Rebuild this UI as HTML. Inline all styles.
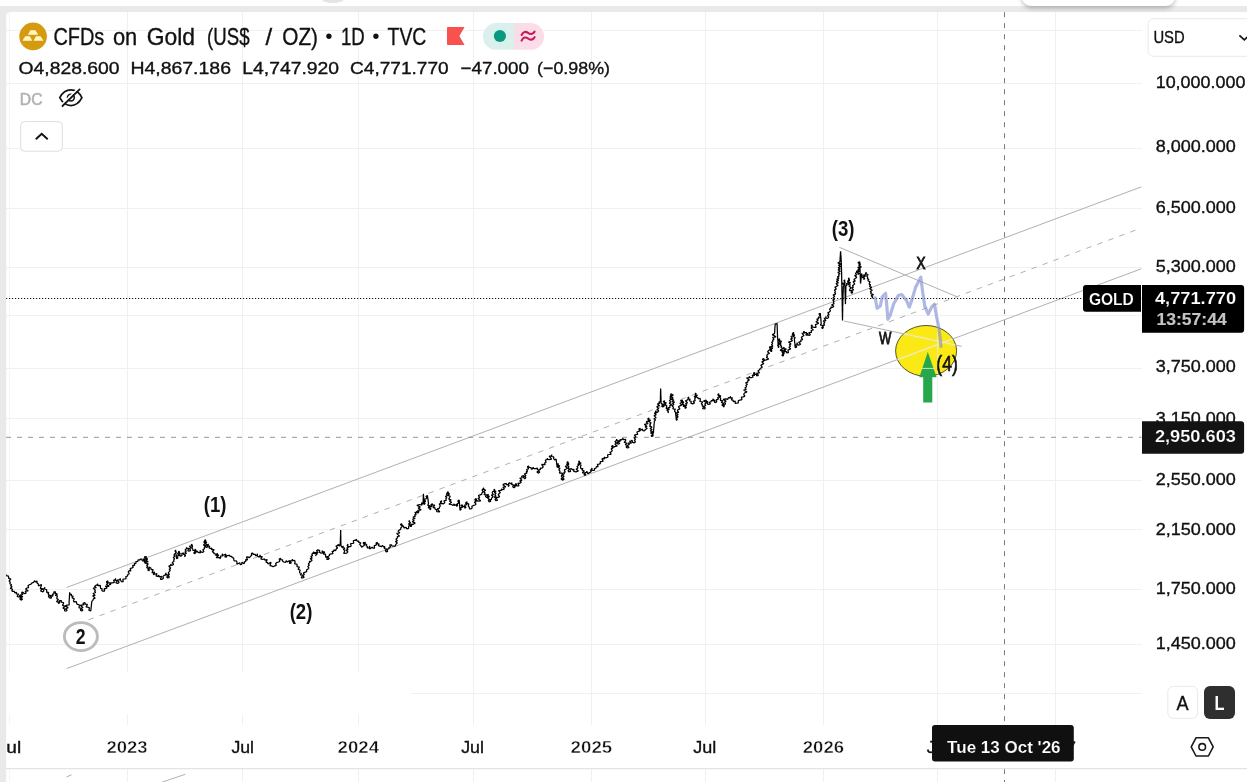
<!DOCTYPE html>
<html lang="en"><head><meta charset="utf-8"><title>CFDs on Gold (US$ / OZ) · 1D · TVC</title>
<style>
html,body{margin:0;padding:0;background:#fff;}
body{width:1260px;height:782px;overflow:hidden;position:relative;font-family:"Liberation Sans", Arial, sans-serif;}
svg{position:absolute;left:0;top:0;display:block;font-family:"Liberation Sans", Arial, sans-serif;}
svg text{white-space:pre;}
.float{position:absolute;left:1022px;top:-14px;width:152.6px;height:19.6px;background:#fff;border-radius:9px;box-shadow:0 2px 5px rgba(0,0,0,.28);}
</style></head><body>
<svg width="1260" height="782" viewBox="0 0 1260 782">
<g stroke="#f0f0f0" stroke-width="1" shape-rendering="crispEdges">
<line x1="6" x2="1141.5" y1="30" y2="30"/>
<line x1="6" x2="1141.5" y1="83.3" y2="83.3"/>
<line x1="6" x2="1141.5" y1="148" y2="148"/>
<line x1="6" x2="1141.5" y1="208.4" y2="208.4"/>
<line x1="6" x2="1141.5" y1="267.1" y2="267.1"/>
<line x1="6" x2="1141.5" y1="315.6" y2="315.6"/>
<line x1="6" x2="1141.5" y1="368.4" y2="368.4"/>
<line x1="6" x2="1141.5" y1="418.6" y2="418.6"/>
<line x1="6" x2="1141.5" y1="480.5" y2="480.5"/>
<line x1="6" x2="1141.5" y1="529.7" y2="529.7"/>
<line x1="6" x2="1141.5" y1="589.3" y2="589.3"/>
<line x1="6" x2="1141.5" y1="644.4" y2="644.4"/>
<line x1="6" x2="1141.5" y1="693.4" y2="693.4"/>
<line x1="127.5" x2="127.5" y1="12" y2="725"/>
<line x1="242.5" x2="242.5" y1="12" y2="725"/>
<line x1="358.5" x2="358.5" y1="12" y2="725"/>
<line x1="473.5" x2="473.5" y1="12" y2="725"/>
<line x1="591.5" x2="591.5" y1="12" y2="725"/>
<line x1="705.5" x2="705.5" y1="12" y2="725"/>
<line x1="823.5" x2="823.5" y1="12" y2="725"/>
<line x1="937.5" x2="937.5" y1="12" y2="725"/>
<line x1="1055.5" x2="1055.5" y1="12" y2="725"/>
<line x1="127.5" x2="127.5" y1="769" y2="782"/>
<line x1="242.5" x2="242.5" y1="769" y2="782"/>
<line x1="358.5" x2="358.5" y1="769" y2="782"/>
<line x1="473.5" x2="473.5" y1="769" y2="782"/>
<line x1="591.5" x2="591.5" y1="769" y2="782"/>
<line x1="705.5" x2="705.5" y1="769" y2="782"/>
<line x1="823.5" x2="823.5" y1="769" y2="782"/>
<line x1="937.5" x2="937.5" y1="769" y2="782"/>
<line x1="1055.5" x2="1055.5" y1="769" y2="782"/>
<line x1="9.5" x2="9.5" y1="12" y2="725" stroke="#f5f5f5"/><line x1="9.5" x2="9.5" y1="769" y2="782" stroke="#f5f5f5"/>
</g>
<rect x="6" y="672" width="405" height="42.5" fill="#fff"/>
<clipPath id="ell"><ellipse cx="926.1" cy="350.9" rx="30" ry="25"/></clipPath>
<ellipse cx="926.1" cy="350.9" rx="30.5" ry="25.4" fill="#fbe915" stroke="#55551f" stroke-width="1"/>
<g stroke="#b0b0b0" stroke-width="1" fill="none">
<line x1="66.6" y1="587.5" x2="1141.3" y2="186.9"/>
<line x1="66.6" y1="668.6" x2="1141.3" y2="268.8"/>
<line x1="66.6" y1="628" x2="1141.3" y2="228" stroke-dasharray="5.5 6.2"/>
<line x1="839.3" y1="247.3" x2="957.5" y2="297"/>
<line x1="844" y1="321" x2="961.7" y2="346.3"/>
</g>
<g clip-path="url(#ell)" stroke="#f4eea0" stroke-width="1.6" fill="none"><line x1="66.6" y1="668.6" x2="1141.3" y2="268.8"/><line x1="844" y1="321" x2="961.7" y2="346.3"/><line x1="937.7" y1="300" x2="937.7" y2="400" stroke-width="1.2"/></g>
<line x1="6" x2="1141.5" y1="298.5" y2="298.5" stroke="#111" stroke-width="1.15" stroke-dasharray="1.2 1.8"/>
<line x1="6" x2="1141.5" y1="437.3" y2="437.3" stroke="#969696" stroke-width="1" stroke-dasharray="5 6"/>
<line x1="1004.5" x2="1004.5" y1="12.2" y2="725" stroke="#7a7a7a" stroke-width="1" stroke-dasharray="5 6"/>
<line x1="1004.5" x2="1004.5" y1="769" y2="782" stroke="#7a7a7a" stroke-width="1" stroke-dasharray="5 6"/>
<path d="M6.1 574.3 L6.4 575.9 L8.2 575.9 L8.7 577.3 L8.7 578.4 L10.9 579.1 L9.1 581.0 L10.2 582.2 L9.9 583.8 L11.6 584.7 L10.5 585.7 L12.1 586.7 L10.2 588.4 L12.5 589.2 L11.8 590.5 L12.7 591.5 L14.1 591.2 L14.8 592.7 L16.6 592.4 L16.2 593.8 L18.7 594.0 L17.1 596.4 L18.5 596.9 L20.2 596.9 L19.8 595.0 L19.7 596.5 L21.0 597.1 L19.8 599.1 L21.1 600.1 L22.5 599.2 L20.5 597.6 L22.9 596.7 L19.9 595.2 L23.0 594.5 L21.5 593.0 L22.4 591.8 L23.4 592.9 L24.9 593.7 L26.2 593.0 L25.2 591.2 L28.3 591.0 L25.6 589.0 L26.9 588.0 L28.7 587.7 L28.0 585.6 L29.4 584.8 L31.0 584.1 L32.0 582.8 L33.7 582.3 L34.5 580.7 L35.7 582.0 L37.1 580.9 L37.0 583.1 L38.4 584.1 L38.4 585.8 L41.6 584.6 L40.9 586.7 L40.3 588.6 L42.6 588.7 L40.5 591.0 L42.8 591.8 L43.9 590.8 L43.0 589.0 L44.7 588.3 L44.8 587.3 L44.2 589.0 L46.6 589.5 L46.7 591.2 L46.9 592.7 L48.7 592.3 L48.2 594.2 L49.2 595.0 L48.4 596.5 L49.9 598.2 L51.7 597.8 L49.6 595.3 L53.0 596.2 L52.4 594.3 L53.9 593.8 L53.8 591.9 L55.6 591.8 L55.2 593.3 L57.5 594.0 L55.2 595.3 L57.5 595.9 L56.9 597.5 L56.8 598.6 L58.5 599.6 L56.4 601.6 L58.7 601.8 L58.2 603.3 L59.6 603.0 L59.5 600.5 L61.4 600.7 L61.1 602.1 L63.6 602.5 L63.3 603.9 L62.5 605.3 L65.1 606.4 L62.9 608.0 L64.6 609.1 L64.6 610.8 L66.5 611.0 L67.1 610.1 L65.6 608.7 L68.2 607.6 L65.3 605.9 L67.1 605.2 L69.2 604.8 L69.1 602.7 L69.1 601.3 L69.2 600.3 L69.3 598.7 L69.4 597.4 L69.5 596.1 L69.5 594.8 L69.6 593.6 L69.7 592.4 L70.0 594.3 L71.6 594.3 L71.2 595.8 L73.2 596.1 L72.0 597.8 L74.3 598.6 L73.5 600.1 L73.8 601.9 L76.3 601.7 L76.7 603.3 L77.2 604.4 L78.9 604.5 L79.3 605.9 L79.0 607.8 L81.3 608.0 L80.4 610.1 L81.8 611.0 L82.9 610.1 L81.1 608.5 L83.0 607.5 L80.2 605.3 L84.2 604.6 L82.9 603.3 L85.0 602.7 L85.3 604.2 L87.5 604.4 L86.0 606.8 L87.6 607.1 L89.5 607.8 L88.8 610.2 L90.8 611.0 L90.9 609.8 L91.0 608.8 L91.2 607.3 L91.3 606.1 L91.4 604.9 L91.6 603.5 L91.7 602.5 L91.8 601.4 L92.9 600.4 L93.4 598.8 L95.2 598.1 L92.6 595.8 L95.2 595.4 L93.0 593.5 L95.7 592.5 L94.6 591.2 L95.4 590.2 L93.1 588.1 L96.4 587.7 L94.4 586.4 L95.9 585.4 L97.2 584.7 L97.8 583.7 L97.6 585.6 L100.3 585.4 L100.4 587.3 L100.6 588.4 L102.1 588.7 L101.8 590.4 L102.9 591.2 L104.6 591.1 L104.2 588.7 L105.5 588.6 L107.1 588.0 L105.3 586.1 L109.1 586.3 L106.2 584.1 L108.1 583.5 L106.3 581.8 L108.1 580.9 L107.4 582.5 L110.3 582.8 L109.3 584.8 L110.6 584.4 L110.9 582.8 L112.5 582.8 L114.4 582.4 L113.6 580.2 L115.4 579.7 L115.7 578.4 L114.9 580.2 L117.3 580.6 L115.8 582.6 L117.6 583.5 L119.1 582.4 L117.3 580.0 L120.0 579.6 L120.2 578.4 L120.5 580.0 L121.5 581.6 L123.2 581.7 L122.9 579.2 L124.7 579.0 L126.1 578.6 L125.8 576.5 L127.4 576.1 L127.9 574.5 L129.3 573.8 L128.2 571.8 L129.2 570.7 L130.9 570.9 L130.1 568.4 L131.7 568.1 L133.3 567.3 L132.5 565.4 L134.7 565.5 L134.3 563.7 L136.0 563.4 L135.9 561.6 L137.8 561.5 L138.1 559.8 L139.5 559.9 L140.6 559.1 L141.9 559.2 L142.3 560.9 L144.4 560.7 L144.5 562.4 L145.9 561.7 L143.3 559.2 L146.3 559.0 L144.2 556.9 L146.4 556.6 L145.9 558.0 L147.7 559.0 L145.9 560.1 L148.2 561.7 L144.5 562.9 L148.3 563.8 L146.6 565.5 L147.9 566.1 L146.6 567.5 L148.8 568.9 L147.7 570.1 L149.3 570.6 L148.9 567.0 L150.9 568.1 L151.2 569.6 L153.2 569.6 L152.0 572.9 L154.7 572.0 L153.3 574.6 L157.0 573.5 L156.0 576.0 L157.3 576.4 L159.0 575.4 L159.0 577.0 L161.6 576.3 L160.4 579.4 L162.1 579.3 L163.4 578.3 L162.9 576.7 L164.1 575.4 L166.1 575.0 L166.0 572.9 L165.2 574.7 L169.0 574.8 L166.6 577.1 L167.9 578.0 L169.4 577.2 L167.9 575.3 L169.3 574.6 L168.3 572.6 L169.2 571.6 L170.3 570.3 L169.1 569.2 L170.7 568.2 L168.7 566.1 L171.3 565.3 L170.5 563.9 L171.1 564.8 L172.4 565.2 L173.6 564.3 L172.2 562.5 L174.1 561.3 L173.7 560.1 L174.6 558.7 L173.3 557.6 L175.0 556.2 L173.9 555.1 L174.9 553.7 L176.4 552.3 L175.0 551.3 L175.6 549.9 L175.7 551.2 L175.9 552.4 L176.0 553.9 L176.2 555.3 L176.3 556.0 L176.5 557.6 L176.6 558.8 L178.0 558.0 L176.3 556.0 L179.4 555.6 L177.5 553.6 L179.7 552.6 L178.8 551.2 L178.3 552.6 L180.2 553.6 L179.5 555.3 L180.7 556.3 L182.0 555.5 L181.8 553.4 L183.9 553.1 L183.3 554.3 L185.6 555.3 L184.5 556.9 L185.2 555.9 L184.2 554.5 L186.5 553.3 L184.8 552.1 L186.3 551.2 L185.1 549.8 L186.9 548.5 L186.4 547.3 L186.6 548.5 L188.9 548.3 L187.8 550.6 L189.0 551.2 L190.7 550.4 L189.3 548.4 L191.1 547.9 L189.4 546.1 L192.5 545.7 L191.6 544.1 L191.3 545.7 L192.6 546.5 L191.8 547.9 L192.8 549.2 L192.9 550.4 L196.2 550.7 L193.7 553.0 L194.8 553.7 L196.2 552.1 L194.3 550.9 L195.4 549.2 L195.8 550.9 L197.4 551.3 L198.0 552.4 L200.5 552.8 L199.9 550.5 L200.9 551.7 L202.4 552.4 L204.0 551.5 L202.7 549.7 L204.5 548.7 L204.3 547.3 L205.8 546.4 L203.4 544.9 L205.3 543.5 L203.7 542.0 L205.8 541.0 L205.4 539.6 L204.2 541.3 L206.8 542.2 L204.8 543.5 L206.7 544.4 L205.5 546.0 L206.3 547.3 L207.8 546.8 L207.2 545.0 L208.6 544.1 L207.6 545.5 L209.8 546.3 L208.9 547.7 L210.1 548.6 L212.0 548.0 L211.5 549.6 L214.2 549.5 L212.3 551.9 L213.9 552.4 L213.9 553.7 L215.8 554.0 L215.9 555.6 L217.7 554.8 L217.1 553.1 L216.9 554.6 L218.7 555.2 L216.2 557.6 L220.3 557.4 L219.7 558.8 L220.7 557.5 L220.4 556.0 L222.8 555.8 L222.3 553.7 L222.4 555.5 L226.0 554.2 L224.8 556.9 L226.4 557.1 L226.7 555.6 L228.1 555.7 L229.3 555.0 L230.1 556.4 L231.8 556.3 L232.1 557.7 L233.6 557.9 L233.8 559.5 L234.1 561.0 L236.2 560.8 L237.0 562.0 L236.8 564.3 L239.8 562.7 L240.2 564.6 L241.6 564.5 L241.9 562.4 L244.2 563.7 L244.6 562.0 L245.8 561.1 L245.6 559.7 L247.6 559.8 L246.4 557.2 L247.8 556.9 L249.3 557.8 L250.4 556.3 L251.6 555.4 L251.4 553.4 L252.9 553.1 L253.1 554.4 L255.3 554.4 L255.5 555.6 L257.3 555.7 L257.4 553.7 L256.7 555.6 L258.7 556.9 L260.5 557.0 L260.0 555.0 L259.7 556.4 L262.3 556.6 L260.8 558.8 L262.5 559.5 L264.5 558.8 L264.8 560.2 L267.2 559.6 L266.0 562.2 L267.6 562.7 L268.0 563.9 L271.1 562.4 L269.9 565.7 L271.5 565.9 L273.1 566.7 L274.7 565.9 L276.3 565.3 L275.6 563.5 L276.6 562.7 L278.5 562.0 L279.8 561.2 L279.2 559.0 L280.7 558.2 L280.7 559.7 L282.6 559.8 L282.5 561.1 L283.6 562.0 L285.4 562.4 L286.2 560.7 L287.0 561.9 L290.0 560.6 L289.4 563.3 L291.3 563.2 L290.3 560.8 L292.7 560.7 L292.2 559.1 L292.3 560.7 L294.7 560.3 L295.1 562.0 L294.6 564.0 L296.9 564.1 L297.1 565.2 L297.0 566.7 L299.4 567.1 L298.1 569.4 L300.3 570.0 L299.6 571.6 L299.7 573.0 L301.4 573.4 L300.3 575.0 L303.0 575.2 L301.2 577.8 L302.8 578.0 L304.2 577.3 L302.8 575.6 L304.4 574.5 L303.3 573.1 L304.7 572.3 L306.6 571.7 L306.6 569.9 L307.9 569.1 L308.9 568.1 L307.8 566.5 L309.3 565.3 L308.3 563.7 L309.9 562.6 L309.2 561.4 L310.9 561.4 L312.1 560.3 L310.1 558.6 L312.2 558.2 L310.8 556.3 L312.6 555.6 L311.8 554.1 L312.8 553.1 L314.1 551.8 L313.2 553.4 L317.4 553.6 L315.3 555.7 L316.6 554.6 L314.3 552.5 L318.1 552.6 L316.4 550.7 L317.9 549.9 L319.8 550.6 L319.3 552.3 L321.1 553.1 L323.0 552.7 L322.4 550.6 L322.0 551.9 L324.7 551.9 L323.3 554.1 L325.4 554.1 L325.6 555.7 L325.6 557.2 L327.9 556.7 L326.7 559.3 L328.1 559.5 L329.3 558.5 L327.5 556.9 L329.5 555.6 L329.4 554.4 L331.3 553.8 L333.0 553.6 L332.0 551.3 L333.8 551.3 L333.9 549.9 L335.7 550.6 L336.4 548.6 L337.6 547.9 L335.9 546.2 L338.3 545.4 L337.7 544.2 L339.5 546.0 L340.3 543.5 L340.3 542.0 L340.4 541.3 L340.4 539.7 L340.4 538.4 L340.5 537.5 L340.5 536.3 L340.5 535.0 L340.6 534.0 L340.6 532.8 L340.6 531.5 L340.7 530.1 L340.7 531.5 L340.7 532.3 L340.7 533.4 L340.7 535.0 L340.8 536.2 L340.8 537.1 L340.8 538.1 L340.8 539.4 L340.8 540.7 L340.9 541.8 L340.9 543.2 L340.9 544.2 L340.9 545.4 L341.9 547.3 L343.5 546.1 L342.0 547.7 L344.9 548.0 L343.4 549.6 L344.8 550.6 L343.7 553.5 L346.7 553.1 L347.9 551.8 L345.9 550.1 L348.1 549.6 L346.8 547.8 L348.8 547.2 L347.1 545.5 L348.0 544.2 L347.5 546.6 L349.9 546.7 L351.1 546.1 L350.6 543.7 L352.4 543.5 L353.8 543.1 L353.3 540.9 L354.3 540.3 L355.6 540.4 L356.3 539.1 L357.0 541.0 L358.8 541.0 L358.7 542.4 L360.9 542.8 L359.6 544.4 L360.7 545.4 L361.7 547.2 L363.3 546.1 L364.5 545.3 L363.1 542.6 L365.5 542.3 L364.6 543.6 L366.8 544.6 L366.0 545.7 L367.5 546.5 L367.1 548.0 L368.9 547.9 L369.7 546.1 L369.6 548.9 L372.1 547.2 L372.9 548.0 L374.6 548.0 L374.2 545.6 L375.4 545.4 L376.6 544.4 L376.0 543.0 L377.4 542.3 L377.2 543.7 L379.1 543.8 L378.3 545.7 L379.9 546.1 L381.4 546.7 L382.5 545.4 L383.5 546.9 L385.0 546.7 L384.2 548.5 L386.7 549.0 L385.3 550.5 L386.3 551.8 L387.7 551.3 L386.7 549.0 L389.0 548.9 L388.9 547.4 L390.5 547.1 L389.8 544.8 L391.4 544.8 L391.9 545.9 L393.4 546.1 L395.2 546.1 L395.9 544.2 L397.4 542.9 L395.4 541.6 L397.4 540.7 L395.9 539.2 L397.6 537.8 L397.2 536.5 L399.6 536.1 L396.6 533.4 L399.8 533.0 L398.0 531.1 L399.1 530.1 L400.6 529.4 L401.0 527.5 L402.5 526.3 L400.3 524.6 L401.7 523.7 L402.2 525.5 L403.6 526.3 L404.0 528.0 L406.1 527.4 L406.8 528.8 L408.6 528.4 L408.7 526.3 L409.7 525.3 L408.6 523.8 L410.4 522.9 L408.8 521.4 L409.6 520.5 L409.3 521.6 L410.5 522.7 L409.2 524.1 L410.8 525.2 L410.2 526.3 L411.5 526.3 L411.5 524.2 L413.2 524.3 L415.2 523.1 L412.2 521.6 L414.1 520.7 L412.7 519.2 L415.2 518.3 L412.9 517.2 L415.3 516.3 L414.5 514.8 L416.2 514.6 L414.9 512.3 L417.5 512.5 L417.0 510.9 L416.6 512.6 L418.3 512.8 L418.9 511.5 L417.8 510.4 L421.2 509.8 L418.2 508.1 L420.4 507.0 L416.9 505.4 L419.6 504.5 L422.0 505.1 L421.5 502.6 L423.0 503.9 L423.1 502.9 L423.1 501.6 L423.2 500.0 L423.2 498.5 L423.3 497.6 L423.3 496.4 L423.4 494.9 L423.4 493.7 L423.5 495.0 L423.5 496.0 L423.6 497.3 L423.7 498.4 L423.8 499.6 L423.8 500.8 L423.9 502.4 L424.0 503.5 L424.0 504.5 L425.1 503.5 L423.8 502.1 L425.6 501.4 L423.8 499.2 L426.0 498.8 L426.8 498.1 L426.0 496.4 L427.5 495.6 L427.6 496.8 L427.8 498.0 L427.9 499.2 L428.1 500.2 L428.2 501.5 L428.4 502.5 L428.5 503.9 L427.7 505.4 L430.3 505.8 L428.1 507.6 L430.2 508.3 L429.8 509.6 L431.0 508.9 L428.4 506.3 L432.1 506.7 L430.9 504.6 L432.4 503.9 L432.6 505.1 L434.8 505.0 L433.0 507.7 L434.9 507.7 L435.0 509.0 L436.6 509.9 L436.8 511.6 L439.8 512.0 L437.2 508.9 L439.3 508.3 L439.4 507.1 L440.3 506.1 L439.2 503.8 L441.9 503.6 L440.2 501.7 L441.9 500.7 L440.5 502.8 L443.2 503.9 L444.8 502.8 L443.9 500.8 L446.3 500.4 L445.8 498.8 L446.8 497.8 L445.4 496.3 L447.5 495.5 L446.3 494.0 L448.7 493.3 L447.7 491.7 L446.9 493.6 L449.5 493.6 L447.9 495.7 L450.2 496.0 L449.6 497.5 L448.7 499.1 L451.2 499.8 L449.4 501.2 L451.7 502.2 L448.9 504.2 L451.5 504.5 L453.1 505.5 L454.1 503.9 L454.5 505.4 L456.6 504.7 L456.6 506.4 L457.6 505.5 L457.1 503.9 L458.8 503.0 L457.9 500.9 L459.2 500.1 L459.3 501.5 L459.4 502.3 L459.5 504.0 L459.6 505.2 L459.7 506.6 L459.8 507.6 L459.9 508.7 L460.0 510.2 L461.1 509.5 L460.4 507.7 L462.5 507.3 L461.0 505.1 L462.8 505.0 L462.5 506.4 L464.9 506.7 L464.7 508.2 L466.0 507.5 L464.5 505.2 L466.9 504.6 L465.5 502.8 L467.3 501.8 L466.4 503.3 L468.8 503.9 L468.3 506.1 L469.2 507.0 L469.5 508.8 L471.1 508.9 L472.1 508.0 L471.9 506.3 L473.0 505.7 L474.9 505.0 L476.1 504.2 L474.4 502.2 L476.2 501.6 L474.8 499.6 L476.2 498.6 L476.6 500.6 L478.1 501.2 L480.7 500.8 L477.9 498.6 L479.7 497.6 L478.4 495.6 L480.1 494.8 L481.7 494.3 L482.0 492.9 L483.1 491.6 L482.0 489.9 L483.7 488.9 L483.6 487.8 L483.0 489.1 L485.6 490.2 L483.6 491.8 L485.2 492.9 L484.0 494.7 L487.0 494.8 L485.4 496.4 L486.4 497.4 L488.0 496.7 L487.3 495.0 L488.4 494.2 L487.9 495.4 L489.4 496.5 L487.5 497.9 L489.7 499.5 L488.4 500.3 L489.0 501.8 L490.8 501.5 L489.5 499.3 L491.4 499.6 L491.6 498.0 L493.2 496.8 L491.4 495.1 L493.4 494.7 L492.2 492.7 L492.8 491.6 L494.5 491.1 L494.5 489.1 L493.7 490.3 L496.0 491.3 L494.4 492.7 L496.1 493.3 L494.7 494.9 L495.9 496.0 L494.3 497.3 L496.6 498.3 L494.9 499.2 L495.8 500.6 L497.5 500.4 L496.1 497.4 L498.0 497.4 L499.7 496.7 L498.2 494.8 L499.2 493.5 L500.4 492.6 L498.4 490.5 L501.5 490.3 L501.2 489.1 L503.1 489.7 L504.4 489.0 L502.9 487.2 L505.9 486.9 L502.8 484.8 L504.3 483.9 L506.3 483.3 L506.1 484.6 L508.8 484.5 L508.2 486.5 L509.1 485.6 L508.3 483.8 L509.5 482.7 L510.7 483.9 L512.0 482.7 L511.6 484.4 L513.5 485.2 L512.7 486.8 L513.9 487.8 L515.3 486.8 L513.5 485.0 L516.6 485.0 L515.9 483.3 L515.4 485.3 L517.1 485.9 L519.0 485.9 L517.9 483.2 L519.7 483.3 L521.3 482.4 L519.7 480.8 L522.0 480.4 L519.8 478.0 L522.2 477.9 L521.6 476.3 L523.5 475.6 L523.6 477.6 L524.8 478.8 L525.8 477.5 L524.4 476.0 L526.0 475.6 L524.4 474.1 L527.1 472.9 L526.1 471.8 L527.6 471.2 L526.5 469.5 L528.6 468.8 L527.4 466.7 L528.6 466.0 L528.9 467.3 L531.1 467.5 L531.2 469.2 L532.6 468.8 L533.1 467.3 L533.9 468.7 L535.7 468.6 L537.6 468.0 L537.1 469.2 L539.1 470.4 L536.9 472.0 L538.2 473.1 L539.7 472.3 L538.4 470.3 L540.5 469.4 L540.2 468.0 L542.1 468.0 L543.3 466.9 L541.6 464.4 L545.2 464.7 L544.6 462.8 L546.1 462.5 L545.3 460.0 L547.0 459.7 L547.2 458.4 L547.9 459.4 L549.1 459.6 L551.7 459.2 L549.1 456.2 L551.7 456.2 L551.7 454.5 L551.4 456.5 L553.8 456.8 L553.6 458.4 L554.6 460.0 L556.1 459.0 L556.3 460.4 L556.4 461.6 L556.6 462.7 L556.7 463.8 L556.9 465.0 L557.0 466.3 L557.2 467.3 L558.8 466.4 L557.2 464.6 L558.4 463.5 L558.0 464.9 L559.7 466.1 L558.0 467.5 L560.0 468.3 L558.8 469.8 L560.0 471.2 L559.4 473.2 L562.4 473.0 L561.9 475.0 L561.3 476.1 L562.6 477.5 L561.1 479.0 L562.5 480.1 L564.1 479.1 L561.9 477.3 L564.1 476.7 L562.3 474.6 L564.3 473.9 L563.8 472.4 L565.3 472.2 L564.3 469.9 L565.7 469.2 L567.4 468.3 L565.2 466.3 L568.0 465.7 L566.5 464.1 L568.5 463.4 L567.6 461.6 L567.0 462.8 L568.9 463.8 L567.6 465.5 L569.0 466.7 L568.0 468.2 L569.3 468.8 L568.1 470.6 L568.9 471.8 L570.6 471.4 L569.9 469.1 L571.5 468.6 L572.5 469.9 L574.0 469.2 L573.7 471.3 L576.0 471.8 L578.4 470.8 L576.1 469.3 L577.9 467.9 L576.9 466.5 L578.6 465.5 L577.9 464.1 L579.7 463.2 L579.2 460.9 L578.5 462.2 L581.1 463.1 L579.0 464.5 L581.2 465.0 L580.4 466.7 L580.9 468.6 L583.0 468.6 L581.9 470.0 L584.4 471.0 L582.3 472.6 L584.9 473.4 L584.0 475.0 L585.8 475.0 L584.9 472.6 L586.6 472.3 L586.8 471.2 L587.7 473.6 L590.0 472.4 L591.2 471.4 L590.5 469.9 L592.1 469.2 L591.9 468.0 L591.5 469.9 L593.2 470.5 L594.6 470.2 L594.4 468.5 L596.0 468.2 L596.4 466.7 L598.2 466.6 L597.3 464.4 L599.0 464.1 L600.3 463.7 L600.2 461.7 L601.5 461.6 L603.2 461.2 L601.9 458.7 L604.4 458.9 L604.1 457.1 L605.2 457.9 L606.6 457.7 L608.0 457.0 L607.5 454.8 L609.2 454.5 L611.1 454.4 L609.8 452.0 L611.5 451.8 L612.2 450.6 L611.2 448.9 L613.0 447.9 L611.5 446.5 L612.8 445.4 L613.0 447.4 L614.7 446.7 L617.3 445.9 L614.9 444.2 L616.4 443.2 L614.9 441.6 L617.0 440.3 L616.6 439.1 L616.5 440.6 L619.3 440.8 L617.1 442.9 L617.9 444.2 L619.8 443.5 L617.9 441.7 L620.3 441.1 L619.8 439.7 L621.7 439.8 L623.0 438.4 L623.6 439.7 L625.7 439.4 L625.6 441.0 L624.1 442.5 L626.7 443.0 L625.3 444.6 L627.9 445.5 L626.0 446.9 L627.5 448.0 L629.1 447.4 L627.1 445.6 L629.4 444.5 L627.7 443.0 L631.5 443.0 L629.4 441.0 L630.8 441.3 L632.0 440.3 L632.6 442.3 L634.3 442.9 L635.5 441.7 L634.3 440.4 L635.5 439.2 L634.1 437.8 L636.0 437.0 L634.3 435.4 L635.8 434.6 L637.7 434.4 L636.9 432.0 L638.4 431.4 L640.0 431.0 L638.8 428.9 L640.3 428.2 L639.4 430.6 L642.5 429.1 L642.8 430.7 L644.4 430.8 L645.4 429.5 L647.2 428.5 L645.1 426.7 L647.1 426.4 L644.4 424.4 L648.1 423.6 L646.2 422.0 L647.3 421.2 L649.5 421.3 L647.7 418.7 L649.2 418.0 L648.4 419.2 L650.6 420.3 L648.7 421.5 L651.1 422.7 L649.8 424.1 L650.5 425.0 L649.5 426.1 L652.0 427.1 L650.0 428.7 L652.2 429.5 L650.2 431.0 L652.6 431.7 L650.5 433.0 L653.3 434.1 L651.1 435.7 L651.8 436.5 L653.2 435.6 L652.3 433.4 L653.5 432.7 L653.5 431.7 L653.6 430.3 L653.7 429.3 L653.8 428.0 L653.9 426.9 L654.0 426.0 L654.1 424.4 L654.2 423.4 L654.3 422.2 L654.3 421.2 L655.6 419.9 L653.8 418.7 L656.1 417.7 L654.0 415.6 L656.2 414.8 L654.4 413.3 L656.5 412.2 L655.6 410.9 L655.2 413.5 L657.5 412.2 L658.8 410.8 L656.8 409.6 L658.8 408.5 L656.7 406.7 L659.6 405.7 L657.3 404.1 L659.6 403.4 L658.8 402.0 L660.4 401.7 L660.4 400.1 L660.4 398.9 L660.4 397.5 L660.4 396.3 L660.5 395.7 L660.5 394.4 L660.5 392.9 L660.5 392.1 L660.6 391.0 L660.6 389.5 L660.6 388.5 L660.7 389.8 L660.7 390.8 L660.8 391.9 L660.8 393.3 L660.8 394.7 L660.9 395.7 L660.9 397.0 L661.0 398.4 L661.0 399.6 L661.1 401.0 L661.1 402.0 L661.0 403.3 L663.0 404.4 L661.8 406.1 L662.7 407.1 L664.3 405.9 L661.6 404.0 L666.0 404.1 L663.2 401.5 L664.6 400.7 L664.2 402.3 L666.2 402.7 L664.6 404.9 L666.8 405.5 L666.5 407.1 L666.2 408.4 L668.1 409.4 L666.9 410.4 L668.4 411.7 L667.8 412.8 L668.5 412.0 L667.4 410.2 L669.3 409.4 L667.8 407.6 L670.1 407.4 L669.7 405.8 L671.6 404.6 L669.2 403.3 L670.8 401.9 L669.3 400.6 L671.2 399.5 L669.9 398.3 L671.2 397.2 L669.8 396.3 L673.4 395.2 L671.0 393.7 L670.6 395.5 L672.3 395.6 L671.4 396.8 L673.2 398.0 L671.3 399.1 L673.9 400.1 L671.9 401.5 L674.5 402.2 L672.4 403.7 L674.0 404.5 L672.0 405.8 L673.5 407.1 L672.8 408.8 L675.4 409.1 L674.5 411.0 L675.4 412.2 L675.6 413.4 L675.7 414.5 L675.9 415.8 L676.0 416.8 L676.2 418.4 L676.3 419.5 L676.5 420.5 L677.4 419.2 L676.0 417.8 L678.2 416.9 L676.5 415.4 L678.1 414.6 L676.3 412.9 L678.8 412.3 L677.4 411.0 L678.0 409.6 L679.9 408.8 L678.4 406.7 L679.9 405.8 L681.7 405.1 L679.9 403.0 L682.5 402.5 L680.5 400.6 L682.5 400.1 L682.2 401.5 L683.8 401.9 L682.3 404.3 L684.4 404.8 L683.0 406.2 L685.2 406.8 L685.0 408.4 L686.5 407.5 L684.6 405.9 L686.8 405.2 L685.5 403.6 L687.5 402.8 L685.4 400.8 L687.0 400.1 L688.4 399.3 L687.9 397.8 L688.9 396.9 L688.2 398.8 L690.2 399.0 L689.3 400.6 L691.3 401.5 L690.8 403.2 L692.7 403.9 L694.5 402.9 L693.1 401.4 L695.2 400.6 L694.6 398.8 L695.5 397.8 L694.2 396.4 L696.2 395.7 L695.2 393.8 L695.9 393.0 L695.4 394.8 L697.3 395.0 L696.1 397.0 L697.8 397.5 L698.2 398.7 L700.1 398.4 L700.4 400.1 L699.8 401.5 L702.7 401.8 L701.3 403.9 L702.3 404.5 L702.2 406.1 L703.9 406.5 L702.5 408.5 L704.2 409.0 L705.4 408.0 L703.5 406.4 L705.8 405.5 L704.8 404.1 L706.8 402.6 L703.4 401.0 L706.1 400.1 L706.3 401.2 L707.9 401.8 L707.4 403.9 L708.7 404.5 L710.4 404.0 L709.4 402.4 L711.0 401.7 L711.3 400.7 L713.4 400.6 L713.2 398.8 L712.6 400.8 L714.9 400.2 L714.4 402.2 L715.7 402.6 L716.7 401.5 L716.2 399.9 L718.4 399.1 L717.6 397.5 L719.4 396.8 L717.8 394.6 L718.9 393.7 L718.6 395.3 L720.7 395.8 L720.0 397.7 L720.8 398.8 L720.3 400.3 L722.9 400.9 L721.2 402.5 L723.6 403.1 L721.9 405.2 L723.4 406.0 L723.4 407.1 L724.4 406.0 L723.5 404.3 L725.7 404.1 L724.5 402.1 L726.2 401.3 L723.1 399.4 L726.0 398.8 L727.8 399.3 L728.5 397.5 L730.3 398.1 L730.4 396.2 L730.1 398.0 L732.4 397.7 L731.4 399.8 L733.0 400.1 L733.3 401.7 L735.3 401.1 L735.1 403.3 L736.8 403.2 L738.3 402.9 L738.3 400.5 L740.0 400.1 L742.0 399.7 L741.3 397.1 L743.2 396.9 L744.9 396.2 L743.7 394.4 L744.5 393.0 L747.0 391.9 L743.7 390.2 L746.3 389.3 L744.9 388.1 L746.6 386.8 L745.8 385.3 L747.4 384.5 L745.7 382.7 L747.8 382.1 L747.7 380.9 L749.4 380.0 L746.6 377.9 L749.7 377.7 L749.0 376.4 L750.0 377.4 L751.5 377.7 L753.1 377.0 L752.1 375.2 L754.7 375.4 L753.4 373.0 L754.7 372.6 L754.7 374.2 L756.7 374.3 L756.6 375.8 L758.4 375.4 L756.6 373.1 L759.5 373.0 L758.0 370.8 L759.2 370.0 L760.5 368.2 L762.3 367.3 L760.8 365.2 L762.4 364.4 L763.8 363.5 L761.7 361.8 L764.0 361.2 L762.3 359.3 L763.7 358.6 L764.4 360.4 L766.2 359.9 L768.6 359.1 L766.3 357.3 L767.4 356.6 L766.8 355.4 L767.5 354.2 L769.5 353.5 L767.6 351.7 L768.8 350.3 L770.5 349.4 L769.4 347.1 L770.7 346.5 L769.5 347.8 L771.7 349.2 L770.2 350.4 L771.3 351.6 L771.9 350.7 L770.4 349.0 L772.8 348.3 L771.1 346.9 L772.9 346.1 L771.5 344.7 L772.7 343.6 L771.6 342.2 L773.1 341.2 L772.6 340.1 L774.0 339.2 L772.6 337.3 L776.0 336.9 L772.3 334.6 L774.5 333.7 L774.6 332.6 L774.7 331.6 L774.8 330.3 L774.8 329.0 L774.9 327.6 L775.0 326.7 L775.1 325.6 L775.2 324.1 L777.1 323.5 L777.1 324.4 L777.2 326.0 L777.2 326.9 L777.2 327.9 L777.3 329.3 L777.3 330.1 L777.4 331.3 L777.4 332.6 L777.4 333.9 L777.5 335.0 L777.5 336.2 L777.6 337.6 L777.7 338.7 L777.8 339.8 L777.9 340.7 L778.0 341.9 L778.0 343.0 L778.1 344.0 L778.2 345.6 L778.3 346.7 L778.4 347.8 L779.0 346.3 L777.4 345.3 L779.8 344.0 L778.0 342.8 L779.7 341.7 L778.5 339.7 L779.6 338.8 L779.5 340.5 L781.5 341.3 L780.2 343.0 L780.9 343.9 L780.4 345.4 L781.7 346.3 L780.9 347.5 L782.8 348.4 L780.1 350.3 L783.2 351.0 L781.9 352.3 L784.4 353.4 L781.9 355.1 L782.8 356.1 L783.6 355.1 L782.5 353.7 L784.2 352.1 L781.2 350.6 L785.5 349.9 L783.4 348.3 L784.1 347.1 L783.9 348.5 L786.2 348.8 L784.5 351.4 L786.5 351.6 L786.7 352.9 L788.5 352.7 L787.9 350.2 L789.2 349.7 L790.7 348.7 L788.9 347.4 L790.5 346.1 L789.4 344.9 L791.0 343.9 L788.4 342.1 L791.2 341.4 L792.5 340.4 L790.6 339.1 L792.4 338.1 L790.9 336.4 L793.7 335.9 L792.2 334.3 L793.7 334.0 L793.5 332.4 L792.3 333.9 L794.7 335.1 L792.9 336.2 L795.2 337.6 L794.3 338.8 L794.5 340.2 L794.6 341.2 L794.7 342.8 L794.9 343.7 L795.0 345.5 L795.1 346.6 L795.2 347.8 L796.8 346.9 L795.3 345.1 L797.7 344.6 L796.9 342.7 L797.1 344.3 L798.8 345.2 L800.6 344.3 L798.6 342.0 L801.1 341.7 L800.7 340.1 L802.6 339.6 L801.3 337.4 L802.7 336.3 L804.0 335.4 L801.9 333.4 L804.8 332.8 L803.9 331.2 L803.4 332.7 L806.8 332.7 L805.9 335.0 L807.7 335.0 L807.8 333.1 L807.6 334.6 L809.1 335.6 L810.3 334.7 L808.8 332.5 L811.6 332.3 L811.0 330.5 L813.4 329.9 L811.0 327.9 L812.2 327.1 L811.2 325.9 L812.0 324.8 L812.1 326.9 L814.2 327.3 L816.1 327.4 L815.4 324.6 L816.7 324.1 L818.7 323.1 L815.9 321.7 L818.1 320.5 L816.8 319.2 L818.7 318.7 L818.3 317.1 L820.8 316.9 L818.9 314.0 L820.3 313.2 L820.4 314.6 L820.5 315.8 L820.6 317.3 L820.8 318.3 L820.9 319.4 L821.0 321.0 L821.1 322.2 L821.2 323.5 L820.4 325.2 L823.9 325.4 L821.7 327.7 L822.5 328.6 L823.3 327.5 L822.7 326.1 L824.4 325.2 L823.8 323.5 L824.8 322.5 L823.2 320.9 L825.9 320.6 L824.2 318.3 L826.1 318.0 L825.9 316.4 L825.8 318.0 L827.6 318.4 L828.8 317.1 L827.3 315.4 L829.2 314.6 L827.8 312.7 L829.5 312.0 L830.5 310.7 L829.5 309.0 L831.1 308.2 L830.8 306.9 L832.3 307.5 L833.9 306.3 L831.6 304.9 L834.1 303.7 L833.4 302.4 L834.0 301.2 L832.7 300.0 L834.5 299.1 L833.1 297.5 L834.8 296.2 L833.1 294.9 L835.8 294.0 L834.6 292.8 L835.4 291.8 L834.4 290.1 L836.3 289.2 L834.9 287.4 L836.5 286.4 L836.7 286.2 L838.1 285.5 L836.0 283.6 L838.5 282.7 L836.3 281.4 L838.7 280.3 L836.5 279.0 L839.0 278.3 L837.3 276.8 L839.1 276.1 L838.7 274.6 L840.0 273.7 L837.8 272.4 L840.3 271.5 L838.1 269.7 L840.3 269.0 L838.1 267.6 L840.7 266.5 L838.4 265.3 L841.0 264.2 L837.8 263.0 L839.9 261.9 L840.0 260.4 L840.1 259.3 L840.1 258.1 L840.2 257.2 L840.3 255.8 L840.4 254.6 L840.4 253.8 L840.5 252.4 L840.6 251.4 L840.7 252.3 L840.7 253.5 L840.8 255.0 L840.9 255.7 L841.0 256.8 L841.1 258.2 L841.1 259.5 L841.2 260.6 L841.2 261.8 L841.3 262.9 L841.3 263.9 L841.4 265.5 L841.4 266.7 L841.4 267.8 L841.5 268.7 L841.5 269.8 L841.5 271.2 L841.6 272.1 L841.6 273.4 L841.6 274.5 L841.6 275.5 L841.7 276.9 L841.7 277.8 L841.7 279.0 L841.7 280.4 L841.8 281.8 L841.8 282.9 L841.8 284.0 L841.8 284.7 L841.9 285.9 L841.9 287.4 L841.9 288.3 L841.9 289.4 L841.9 291.1 L842.0 291.7 L842.0 293.0 L842.0 294.5 L842.0 295.2 L842.1 296.4 L842.1 297.8 L842.1 298.9 L842.1 300.4 L842.2 301.3 L842.2 302.3 L842.2 303.8 L842.2 304.7 L842.2 305.8 L842.3 307.4 L842.3 308.8 L842.3 309.8 L842.3 311.1 L842.3 311.8 L842.4 313.1 L842.4 314.4 L842.4 315.8 L842.4 316.8 L842.5 318.3 L842.5 319.0 L842.5 320.4 L842.5 319.3 L842.5 318.0 L842.6 316.7 L842.6 315.9 L842.6 314.2 L842.6 313.0 L842.6 312.0 L842.7 311.0 L842.7 309.6 L842.7 308.6 L842.7 307.3 L842.7 306.2 L842.8 304.8 L842.8 303.8 L842.8 302.3 L842.8 301.4 L842.9 300.0 L842.9 298.9 L842.9 297.6 L843.0 296.8 L843.0 295.5 L843.1 294.0 L843.1 293.4 L843.2 291.7 L843.2 290.6 L843.2 289.5 L843.3 288.7 L843.3 287.6 L843.4 286.2 L844.3 284.7 L841.8 283.5 L845.2 282.7 L843.9 280.7 L844.7 279.8 L844.7 281.1 L844.7 281.8 L844.8 283.3 L844.8 284.4 L844.9 285.6 L844.9 286.4 L844.9 287.9 L845.0 289.0 L845.0 290.3 L845.0 291.5 L845.1 292.5 L845.1 293.7 L845.1 294.8 L845.2 296.2 L845.2 297.0 L845.3 298.4 L845.3 299.6 L845.3 300.5 L845.4 301.9 L845.4 303.0 L845.4 304.1 L845.5 303.0 L845.5 301.4 L845.5 300.6 L845.6 299.3 L845.6 298.0 L845.6 297.0 L845.7 295.8 L845.7 294.8 L845.7 293.4 L845.8 292.2 L845.8 290.9 L845.8 289.5 L845.9 288.5 L845.9 287.2 L845.9 286.2 L847.0 285.0 L846.3 283.7 L848.2 282.8 L847.6 281.0 L849.4 280.1 L848.9 277.8 L848.4 279.1 L849.6 280.4 L848.0 281.8 L850.6 282.7 L847.9 284.3 L850.4 284.9 L849.0 286.2 L850.9 287.4 L850.2 288.7 L849.4 290.6 L852.2 290.3 L851.0 292.6 L852.1 293.2 L852.7 292.2 L851.1 290.6 L853.7 289.9 L851.7 288.1 L853.4 287.1 L852.5 286.0 L853.4 284.9 L854.7 283.9 L853.1 281.7 L855.3 281.2 L853.9 279.5 L855.3 278.5 L856.8 277.3 L854.6 275.5 L856.6 274.9 L855.3 273.0 L857.6 272.5 L856.6 270.8 L856.6 272.1 L858.6 273.1 L857.8 274.6 L859.2 273.5 L856.9 272.2 L859.3 271.1 L857.6 270.1 L859.5 269.0 L857.8 267.2 L861.4 267.1 L858.5 265.0 L860.6 264.3 L857.9 262.6 L859.8 261.9 L859.8 262.9 L859.8 264.4 L859.9 265.3 L859.9 266.6 L860.0 268.0 L860.0 269.3 L860.1 270.4 L860.1 271.4 L860.1 272.7 L860.2 273.9 L860.2 274.9 L860.3 276.3 L860.3 277.4 L860.4 278.5 L860.4 279.9 L860.4 281.4 L860.5 282.1 L860.5 283.6 L860.7 282.5 L860.8 281.3 L861.0 280.0 L861.1 278.7 L861.2 277.0 L861.4 276.1 L861.5 274.4 L861.7 273.4 L861.4 274.8 L864.5 275.3 L862.2 277.5 L864.6 278.4 L863.6 279.8 L864.7 278.4 L863.2 276.7 L865.4 276.1 L864.9 274.6 L866.1 273.7 L866.2 272.1 L865.5 273.8 L868.2 274.5 L866.6 275.9 L867.7 277.2 L867.4 278.8 L868.8 279.1 L867.9 280.7 L870.1 281.8 L869.3 283.0 L869.3 284.1 L870.6 284.9 L869.4 286.2 L871.7 287.4 L869.6 288.7 L872.3 290.2 L870.3 291.6 L871.3 292.5 L870.7 293.7 L873.5 294.6 L871.1 295.8 L872.8 297.0 L871.9 298.3" fill="none" stroke="#000" stroke-width="1.25" stroke-linejoin="bevel"/>
<path d="M875.2 297.9 L877.1 308.3 L880.3 306 L882.2 296.8 L885.6 293.3 L886.8 306 L887.9 319.3 L890.2 315.2 L893.7 303.7 L898.3 295.6 L901.7 294.5 L906.3 300.2 L909.3 307.1 L912.1 299.1 L915.5 287.6 L920.8 277.2 L922.4 289.9 L924.7 306 L928.2 314 L931.6 307.1 L934.4 304.1 L936.3 315.2 L938.6 326.7 L940.2 338.2 L940.9 346.3" fill="none" stroke="#7f8bd0" stroke-opacity="0.62" stroke-width="3.2" stroke-linejoin="round" stroke-linecap="round"/>
<path d="M927.8 352 L936.6 377.2 L932.3 377.2 L932.3 402.6 L923.2 402.6 L923.2 377.2 L919.3 377.2 Z" fill="#27a74c"/>
<line x1="921.5" x2="934" y1="368.4" y2="368.4" stroke="#d9f0c0" stroke-width="0.9"/>
<ellipse cx="80.9" cy="636.6" rx="16.5" ry="14" fill="#fff" stroke="#bcbcbc" stroke-width="2.9"/>
<text id="c2" x="75.8" y="644.3" font-size="22" font-weight="bold" fill="#111" textLength="9.8" lengthAdjust="spacingAndGlyphs">2</text>
<text id="w1" x="203.8" y="511.6" font-size="22" font-weight="bold" fill="#111" textLength="22.6" lengthAdjust="spacingAndGlyphs">(1)</text>
<text id="w2" x="289.7" y="618.5" font-size="22" font-weight="bold" fill="#111" textLength="22.7" lengthAdjust="spacingAndGlyphs">(2)</text>
<text id="w3" x="831.8" y="235.9" font-size="22" font-weight="bold" fill="#111" textLength="22.7" lengthAdjust="spacingAndGlyphs">(3)</text>
<text id="w4" x="936.3" y="370.8" font-size="22" font-weight="normal" fill="#111" textLength="21.5" lengthAdjust="spacingAndGlyphs" stroke="#111" stroke-width="0.65">(4)</text>
<text id="lx" x="916.5" y="268.5" font-size="17" font-weight="normal" fill="#111" textLength="9.0" lengthAdjust="spacingAndGlyphs" stroke="#111" stroke-width="0.95">X</text>
<text id="lw" x="878.9" y="344.3" font-size="16.5" font-weight="normal" fill="#111" textLength="12.4" lengthAdjust="spacingAndGlyphs" stroke="#111" stroke-width="0.8">W</text>
<circle cx="33.1" cy="36.4" r="13.8" fill="#d59a10"/>
<g fill="#fff8c4"><path d="M30.4 30.2 L35.4 30.2 L38.2 34.8 L27.8 34.8 Z"/><path d="M25.3 36.2 L29.9 36.2 L32.2 40.8 L22.3 40.8 Z"/><path d="M35.9 36.2 L40.5 36.2 L43.5 40.8 L33.6 40.8 Z"/></g>
<text id="t1" x="53.4" y="44.5" font-size="24" font-weight="normal" fill="#111111" textLength="50.9" lengthAdjust="spacingAndGlyphs" stroke="#111111" stroke-width="0.35">CFDs</text>
<text id="t2" x="112.9" y="44.5" font-size="24" font-weight="normal" fill="#111111" textLength="24.3" lengthAdjust="spacingAndGlyphs" stroke="#111111" stroke-width="0.35">on</text>
<text id="t3" x="146.8" y="44.5" font-size="24" font-weight="normal" fill="#111111" textLength="48.3" lengthAdjust="spacingAndGlyphs" stroke="#111111" stroke-width="0.35">Gold</text>
<text id="t4" x="207.1" y="44.5" font-size="24" font-weight="normal" fill="#111111" textLength="42.4" lengthAdjust="spacingAndGlyphs" stroke="#111111" stroke-width="0.35">(US$</text>
<text id="t6" x="282.3" y="44.5" font-size="24" font-weight="normal" fill="#111111" textLength="35.7" lengthAdjust="spacingAndGlyphs" stroke="#111111" stroke-width="0.35">OZ)</text>
<text id="t7" x="341.0" y="44.5" font-size="24" font-weight="normal" fill="#111111" textLength="23.8" lengthAdjust="spacingAndGlyphs" stroke="#111111" stroke-width="0.35">1D</text>
<text id="t8" x="387.6" y="44.5" font-size="24" font-weight="normal" fill="#111111" textLength="38.7" lengthAdjust="spacingAndGlyphs" stroke="#111111" stroke-width="0.35">TVC</text>
<text id="t5" x="265.4" y="44.5" font-size="24" font-weight="normal" fill="#111111" stroke="#111111" stroke-width="0.35">/</text>
<text x="328.8" y="47.3" font-family="Liberation Serif, serif" font-size="34" font-weight="bold" text-anchor="middle" fill="#111111" id="d1">·</text>
<text x="375.8" y="47.3" font-family="Liberation Serif, serif" font-size="34" font-weight="bold" text-anchor="middle" fill="#111111" id="d2">·</text>
<path d="M448 27 L464.6 27 L459.4 36 L464.6 45 L448 45 a1 1 0 0 1 -1 -1 V28 a1 1 0 0 1 1 -1 Z" fill="#f7524f"/>
<clipPath id="pill"><rect x="483" y="23" width="61" height="26.8" rx="13.4"/></clipPath>
<g clip-path="url(#pill)"><rect x="483" y="23" width="31" height="27" fill="#d9f0ec"/><rect x="514" y="23" width="30" height="27" fill="#fbdde7"/></g>
<circle cx="499.9" cy="36" r="6.1" fill="#089981"/>
<g fill="none" stroke="#c9195d" stroke-width="2.1" stroke-linecap="round"><path d="M521.6 35 C523.2 31.4 525.8 31.2 528 32.9 C530.2 34.6 532.8 34.6 534.6 31.6"/><path d="M521.6 40.6 C523.2 37 525.8 36.8 528 38.5 C530.2 40.2 532.8 40.2 534.6 37.2"/></g>
<text id="o1" x="18.6" y="74.4" font-size="17" font-weight="normal" fill="#111111" textLength="100.9" lengthAdjust="spacingAndGlyphs" stroke="#111111" stroke-width="0.35">O4,828.600</text>
<text id="o2" x="130.4" y="74.4" font-size="17" font-weight="normal" fill="#111111" textLength="100.6" lengthAdjust="spacingAndGlyphs" stroke="#111111" stroke-width="0.35">H4,867.186</text>
<text id="o3" x="242.3" y="74.4" font-size="17" font-weight="normal" fill="#111111" textLength="96.7" lengthAdjust="spacingAndGlyphs" stroke="#111111" stroke-width="0.35">L4,747.920</text>
<text id="o4" x="350.0" y="74.4" font-size="17" font-weight="normal" fill="#111111" textLength="98.6" lengthAdjust="spacingAndGlyphs" stroke="#111111" stroke-width="0.35">C4,771.770</text>
<text id="o5" x="460.5" y="74.4" font-size="17" font-weight="normal" fill="#111111" textLength="68.5" lengthAdjust="spacingAndGlyphs" stroke="#111111" stroke-width="0.35">−47.000</text>
<text id="o6" x="537.0" y="74.4" font-size="17" font-weight="normal" fill="#111111" textLength="73.0" lengthAdjust="spacingAndGlyphs" stroke="#111111" stroke-width="0.35">(−0.98%)</text>
<text id="dc" x="19.8" y="105.3" font-size="17" font-weight="normal" fill="#b2b2b2" textLength="22.7" lengthAdjust="spacingAndGlyphs" stroke="#b2b2b2" stroke-width="0.6">DC</text>
<g fill="none" stroke="#141414" stroke-width="1.75" stroke-linecap="round"><path d="M59.8 97.6 C62.5 92.4 66.5 89.9 70.9 89.9 C75.3 89.9 79.3 92.4 81.9 97.6 C79.3 102.8 75.3 105.5 70.9 105.5 C66.5 105.5 62.5 102.8 59.8 97.6 Z"/><circle cx="70.9" cy="97.6" r="3.4" stroke-width="1.6"/><path d="M61.3 104.9 L78.5 88.2" stroke="#fff" stroke-width="1.7" stroke-linecap="butt"/><path d="M62.5 106 L79.6 89.4" stroke-width="1.8"/></g>
<rect x="20.7" y="121.6" width="41.6" height="29.6" rx="4" fill="#fff" stroke="#dedede" stroke-width="1"/>
<path d="M35.8 139.3 L41.7 133.8 L47.7 139.3" fill="none" stroke="#111" stroke-width="1.9"/>
<rect x="1148.2" y="18.7" width="110" height="37.6" rx="5" fill="#fff" stroke="#e9e9e9" stroke-width="1"/>
<text id="usd" x="1153.4" y="42.7" font-size="17" font-weight="normal" fill="#111111" textLength="31.2" lengthAdjust="spacingAndGlyphs" stroke="#111111" stroke-width="0.35">USD</text>
<path d="M1239.4 35.4 L1244.3 39.8 L1249.2 35.4" fill="none" stroke="#111" stroke-width="1.7"/>
<text id="p0" x="1155.7" y="87.6" font-size="16.6" font-weight="normal" fill="#111111" textLength="89.7" lengthAdjust="spacingAndGlyphs" stroke="#111111" stroke-width="0.35">10,000.000</text>
<text id="p1" x="1155.7" y="152.4" font-size="16.6" font-weight="normal" fill="#111111" textLength="80.2" lengthAdjust="spacingAndGlyphs" stroke="#111111" stroke-width="0.35">8,000.000</text>
<text id="p2" x="1155.7" y="212.6" font-size="16.6" font-weight="normal" fill="#111111" textLength="80.2" lengthAdjust="spacingAndGlyphs" stroke="#111111" stroke-width="0.35">6,500.000</text>
<text id="p3" x="1155.7" y="272.4" font-size="16.6" font-weight="normal" fill="#111111" textLength="80.2" lengthAdjust="spacingAndGlyphs" stroke="#111111" stroke-width="0.35">5,300.000</text>
<text id="p4" x="1155.7" y="372.4" font-size="16.6" font-weight="normal" fill="#111111" textLength="80.2" lengthAdjust="spacingAndGlyphs" stroke="#111111" stroke-width="0.35">3,750.000</text>
<text id="p5" x="1155.7" y="423.5" font-size="16.6" font-weight="normal" fill="#111111" textLength="80.2" lengthAdjust="spacingAndGlyphs" stroke="#111111" stroke-width="0.35">3,150.000</text>
<text id="p6" x="1155.7" y="485.1" font-size="16.6" font-weight="normal" fill="#111111" textLength="80.2" lengthAdjust="spacingAndGlyphs" stroke="#111111" stroke-width="0.35">2,550.000</text>
<text id="p7" x="1155.7" y="534.6" font-size="16.6" font-weight="normal" fill="#111111" textLength="80.2" lengthAdjust="spacingAndGlyphs" stroke="#111111" stroke-width="0.35">2,150.000</text>
<text id="p8" x="1155.7" y="593.7" font-size="16.6" font-weight="normal" fill="#111111" textLength="80.2" lengthAdjust="spacingAndGlyphs" stroke="#111111" stroke-width="0.35">1,750.000</text>
<text id="p9" x="1155.7" y="648.8" font-size="16.6" font-weight="normal" fill="#111111" textLength="80.2" lengthAdjust="spacingAndGlyphs" stroke="#111111" stroke-width="0.35">1,450.000</text>
<path d="M1086 285.1 H1141 V311.7 H1086 a3 3 0 0 1 -3 -3 V288.1 a3 3 0 0 1 3 -3 Z" fill="#000"/>
<path d="M1142 285.1 H1241.1 a3 3 0 0 1 3 3 V329.7 a3 3 0 0 1 -3 3 H1142 Z" fill="#000"/>
<text id="gold" x="1088.9" y="304.9" font-size="17" font-weight="bold" fill="#fff" textLength="44.9" lengthAdjust="spacingAndGlyphs" stroke="#000" stroke-width="0.15">GOLD</text>
<text id="pr" x="1154.9" y="304.2" font-size="17" font-weight="bold" fill="#fff" textLength="81.3" lengthAdjust="spacingAndGlyphs" stroke="#000" stroke-width="0.15">4,771.770</text>
<text id="tm" x="1156.5" y="324.8" font-size="17" font-weight="bold" fill="#c4c4c4" textLength="70.2" lengthAdjust="spacingAndGlyphs" stroke="#c4c4c4" stroke-width="0.15">13:57:44</text>
<path d="M1142 421.3 H1241.1 a3 3 0 0 1 3 3 V450.8 a3 3 0 0 1 -3 3 H1142 Z" fill="#131313"/>
<text id="ch" x="1154.9" y="442.4" font-size="17" font-weight="bold" fill="#fff" textLength="81.0" lengthAdjust="spacingAndGlyphs" stroke="#000" stroke-width="0.15">2,950.603</text>
<rect x="1167.8" y="686.4" width="29.8" height="32" rx="5.5" fill="#fff" stroke="#e9e9e9" stroke-width="1"/>
<rect x="1204" y="685.9" width="31" height="33" rx="6" fill="#2f2f2f"/>
<text id="ba" x="1176.5" y="709.8" font-size="20" font-weight="normal" fill="#111111" textLength="12.1" lengthAdjust="spacingAndGlyphs" stroke="#111111" stroke-width="0.35">A</text>
<text id="bl" x="1214.6" y="709.8" font-size="20" font-weight="bold" fill="#fff" textLength="10.0" lengthAdjust="spacingAndGlyphs">L</text>
<g fill="none" stroke="#1a1a1a" stroke-width="1.6" stroke-linejoin="round"><path d="M1191.2 746.9 L1196 737.8 L1208.4 737.8 L1213.2 746.9 L1208.4 756 L1196 756 Z"/><circle cx="1202.2" cy="746.9" r="3.3"/></g>
<text id="jul0" x="-3.2" y="753.0" font-size="17" font-weight="normal" fill="#111111" textLength="24.4" lengthAdjust="spacingAndGlyphs" stroke="#111111" stroke-width="0.35">Jul</text>
<text x="106.4" y="753.0" font-size="17" font-weight="bold" fill="#111111" textLength="41.2" lengthAdjust="spacingAndGlyphs" stroke="#fff" stroke-width="0.45">2023</text>
<text x="231.4" y="753.0" font-size="17" font-weight="normal" fill="#111111" textLength="22.6" lengthAdjust="spacingAndGlyphs" stroke="#111111" stroke-width="0.35">Jul</text>
<text x="337.6" y="753.0" font-size="17" font-weight="bold" fill="#111111" textLength="41.4" lengthAdjust="spacingAndGlyphs" stroke="#fff" stroke-width="0.45">2024</text>
<text x="461.2" y="753.0" font-size="17" font-weight="normal" fill="#111111" textLength="22.8" lengthAdjust="spacingAndGlyphs" stroke="#111111" stroke-width="0.35">Jul</text>
<text x="570.6" y="753.0" font-size="17" font-weight="bold" fill="#111111" textLength="41.6" lengthAdjust="spacingAndGlyphs" stroke="#fff" stroke-width="0.45">2025</text>
<text x="693.2" y="753.0" font-size="17" font-weight="normal" fill="#111111" textLength="23.0" lengthAdjust="spacingAndGlyphs" stroke="#111111" stroke-width="0.35">Jul</text>
<text x="802.8" y="753.0" font-size="17" font-weight="bold" fill="#111111" textLength="41.2" lengthAdjust="spacingAndGlyphs" stroke="#fff" stroke-width="0.45">2026</text>
<text x="926.7" y="753.0" font-size="17" font-weight="normal" fill="#111111" textLength="22.6" lengthAdjust="spacingAndGlyphs" stroke="#111111" stroke-width="0.35">Jul</text>
<text x="1035.0" y="753.0" font-size="17" font-weight="bold" fill="#111111" textLength="41.4" lengthAdjust="spacingAndGlyphs" stroke="#fff" stroke-width="0.45">2027</text>
<rect x="932" y="724.9" width="141.8" height="36.6" rx="3" fill="#101010"/>
<text id="tt" x="947.1" y="753.0" font-size="17" font-weight="bold" fill="#fff" textLength="113.5" lengthAdjust="spacingAndGlyphs" stroke="#000" stroke-width="0.15">Tue 13 Oct '26</text>
<line x1="6" x2="1247" y1="768.6" y2="768.6" stroke="#e3e3e3" stroke-width="1.2"/>
<g stroke="#b0b0b0" stroke-width="1"><line x1="66.5" y1="776.9" x2="71.6" y2="774.8"/><line x1="162.4" y1="782" x2="185.3" y2="774.3"/></g>
<rect x="0" y="6" width="1247" height="6" fill="#e9e9e9"/>
<path d="M0 6 H6.2 V782 H0 Z" fill="#e9e9e9"/>
<path d="M6.2 12 H11 Q6.2 12 6.2 17 Z" fill="#e9e9e9"/>
<rect x="1247" y="0" width="13" height="782" fill="#fff"/>
<ellipse cx="333" cy="0" rx="10.5" ry="3" fill="#e4e4e4"/>
</svg>
<div class="float"></div>
</body></html>
